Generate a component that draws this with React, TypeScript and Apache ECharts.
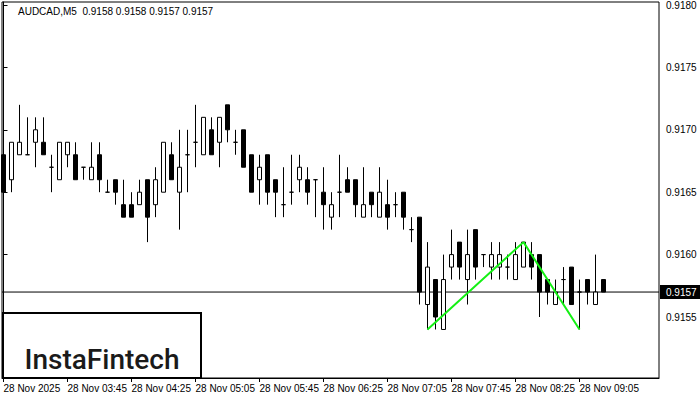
import { useEffect, useRef } from "react";
import * as echarts from "echarts";

const symbolName = "AUDCAD,M5";

const opens = [0.9168,0.9166,0.9168,0.9168,0.9169,0.9169,0.9167,0.9166,0.9168,0.9168,
  0.9167,0.9166,0.9168,0.9165,0.9166,0.9164,0.9164,0.9164,0.9166,0.9164,
  0.9165,0.9168,0.9165,0.9168,0.9169,0.9168,0.9170,0.9169,0.9172,0.9169,
  0.9170,0.9168,0.9166,0.9168,0.9166,0.9164,0.9165,0.9166,0.9166,0.9166,
  0.9165,0.9163,0.9165,0.9166,0.9166,0.9163,0.9165,0.9163,0.9164,0.9164,
  0.9165,0.9162,0.9163,0.9156,0.9158,0.9154,0.9159,0.9161,0.9158,0.9162,
  0.9160,0.9159,0.9159,0.9159,0.9158,0.9159,0.9160,0.9160,0.9158,0.9156,
  0.9158,0.9159,0.9157,0.9158,0.9156,0.9158];

const highs = [0.9168,0.9169,0.9172,0.9171,0.9171,0.9171,0.9168,0.9169,0.9169,0.9169,
  0.9167,0.9169,0.9169,0.9166,0.9166,0.9166,0.9165,0.9166,0.9166,0.9167,
  0.9169,0.9169,0.9170,0.9170,0.9172,0.9171,0.9171,0.9171,0.9172,0.9170,
  0.9170,0.9168,0.9168,0.9168,0.9166,0.9167,0.9168,0.9168,0.9167,0.9166,
  0.9167,0.9165,0.9168,0.9167,0.9166,0.9167,0.9165,0.9167,0.9166,0.9165,
  0.9165,0.9163,0.9163,0.9161,0.9158,0.9160,0.9162,0.9161,0.9162,0.9162,
  0.9160,0.9161,0.9161,0.9160,0.9161,0.9161,0.9161,0.9160,0.9158,0.9158,
  0.9159,0.9159,0.9158,0.9158,0.9160,0.9158];

const lows = [0.9165,0.9165,0.9168,0.9168,0.9167,0.9168,0.9165,0.9166,0.9167,0.9166,
  0.9166,0.9166,0.9165,0.9165,0.9164,0.9163,0.9163,0.9164,0.9161,0.9163,
  0.9165,0.9166,0.9162,0.9165,0.9167,0.9168,0.9168,0.9167,0.9169,0.9168,
  0.9167,0.9165,0.9164,0.9164,0.9163,0.9163,0.9164,0.9165,0.9164,0.9163,
  0.9162,0.9162,0.9163,0.9165,0.9163,0.9163,0.9163,0.9163,0.9162,0.9163,
  0.9162,0.9161,0.9156,0.9154,0.9154,0.9154,0.9158,0.9158,0.9156,0.9158,
  0.9159,0.9158,0.9158,0.9158,0.9158,0.9159,0.9158,0.9155,0.9156,0.9156,
  0.9156,0.9156,0.9154,0.9156,0.9156,0.9157];

const closes = [0.9165,0.9169,0.9169,0.9168,0.9170,0.9168,0.9167,0.9169,0.9169,0.9166,
  0.9167,0.9167,0.9166,0.9165,0.9165,0.9163,0.9163,0.9165,0.9163,0.9166,
  0.9169,0.9166,0.9167,0.9168,0.9169,0.9171,0.9168,0.9171,0.9170,0.9169,
  0.9167,0.9165,0.9167,0.9165,0.9165,0.9164,0.9165,0.9167,0.9165,0.9166,
  0.9164,0.9164,0.9165,0.9165,0.9164,0.9164,0.9164,0.9165,0.9163,0.9164,
  0.9163,0.9162,0.9157,0.9159,0.9155,0.9158,0.9160,0.9159,0.9160,0.9159,
  0.9160,0.9160,0.9160,0.9159,0.9160,0.9161,0.9159,0.9157,0.9157,0.9157,
  0.9158,0.9156,0.9157,0.9157,0.9157,0.9157];

const xTickIndices = [0, 8, 16, 24, 32, 40, 48, 56, 64, 72];
const xTickLabels = ["28 Nov 2025", "28 Nov 03:45", "28 Nov 04:25", "28 Nov 05:05", "28 Nov 05:45",
  "28 Nov 06:25", "28 Nov 07:05", "28 Nov 07:45", "28 Nov 08:25", "28 Nov 09:05"];
const yTickValues = [0.9155, 0.916, 0.9165, 0.917, 0.9175, 0.918];

// double-top pattern: low -> high -> low
const patternIdx = [53, 65, 72];
const patternKind = ["low", "high", "low"];

const currentPrice = 0.9157;

const FONT = "Liberation Sans";

export default function App() {
  const ref = useRef<HTMLDivElement>(null);
  useEffect(() => {
    const chart = echarts.init(ref.current!, null, { renderer: "svg" });
    const n = opens.length;
    const candleData = opens.map((o, i) => [i, o, closes[i], lows[i], highs[i]]);
    const patternData = patternIdx.map((idx, k) => [idx, patternKind[k] === "low" ? lows[idx] : highs[idx]]);
    const last = n - 1;
    const title = `${symbolName}  ${opens[last].toFixed(4)} ${highs[last].toFixed(4)} ${lows[last].toFixed(4)} ${closes[last].toFixed(4)}`;

    chart.setOption({
      animation: false,
      backgroundColor: "#fff",
      grid: {
        left: 2, right: 41, top: 2, bottom: 22,
        show: true, borderColor: "#000", borderWidth: 1, backgroundColor: "#fff",
      },
      xAxis: {
        type: "value",
        min: -0.1875,
        max: 81.9375,
        axisLine: { show: true, onZero: false, lineStyle: { color: "#000", width: 1 } },
        axisTick: { show: true, length: 4, customValues: xTickIndices, lineStyle: { color: "#000" } },
        axisLabel: {
          show: true,
          customValues: xTickIndices,
          formatter: (v: number) => {
            const k = xTickIndices.indexOf(Math.round(v));
            return k >= 0 ? xTickLabels[k] : "";
          },
          align: "left",
          margin: 5,
          color: "#000",
          fontFamily: FONT,
          fontSize: 10,
        },
        splitLine: { show: false },
      },
      yAxis: {
        type: "value",
        position: "right",
        min: 0.91501122,
        max: 0.91802404,
        axisLine: { show: true, lineStyle: { color: "#000", width: 1 } },
        axisTick: { show: true, length: 4, customValues: yTickValues, lineStyle: { color: "#000" } },
        axisLabel: {
          show: true,
          customValues: yTickValues,
          formatter: (v: number) => v.toFixed(4),
          margin: 7,
          color: "#000",
          fontFamily: FONT,
          fontSize: 10,
        },
        splitLine: { show: false },
      },
      series: [
        {
          type: "line",
          data: [[-0.1875, currentPrice], [81.9375, currentPrice]],
          symbol: "none",
          lineStyle: { color: "#000", width: 1 },
          emphasis: { disabled: true },
          silent: true,
          z: 1,
          endLabel: {
            show: true,
            formatter: () => currentPrice.toFixed(4),
            distance: 1,
            color: "#fff",
            backgroundColor: "#000",
            padding: [2, 6, 2, 6],
            fontFamily: FONT,
            fontSize: 10,
          },
        },
        {
          type: "candlestick",
          data: candleData,
          encode: { x: 0, y: [1, 2, 3, 4] },
          barWidth: 4,
          z: 3,
          itemStyle: {
            color: "#ffffff",
            color0: "#000000",
            borderColor: "#000000",
            borderColor0: "#000000",
            borderWidth: 1,
          },
          emphasis: { disabled: true },
          silent: true,
        },
        {
          type: "line",
          data: patternData,
          symbol: "none",
          lineStyle: { color: "#14f014", width: 2 },
          itemStyle: { color: "#14f014" },
          emphasis: { disabled: true },
          silent: true,
          z: 5,
        },
      ],
      graphic: [
        {
          type: "text",
          left: 18,
          top: 6,
          style: { text: title, fill: "#000", font: `10px "${FONT}"` },
          z: 10,
        },
        {
          type: "rect",
          shape: { x: 3, y: 313, width: 198, height: 65 },
          style: { fill: "#fff", stroke: "#000", lineWidth: 2 },
          z: 10,
        },
        {
          type: "text",
          x: 102,
          y: 359,
          style: {
            text: "InstaFintech",
            fill: "#1a1a1a",
            font: `500 28px Roboto`,
            align: "center",
            verticalAlign: "middle",
          },
          z: 11,
        },
      ],
    });
    return () => chart.dispose();
  }, []);
  return <div ref={ref} style={{ position: "absolute", left: 0, top: 0, width: 700, height: 400 }} />;
}
